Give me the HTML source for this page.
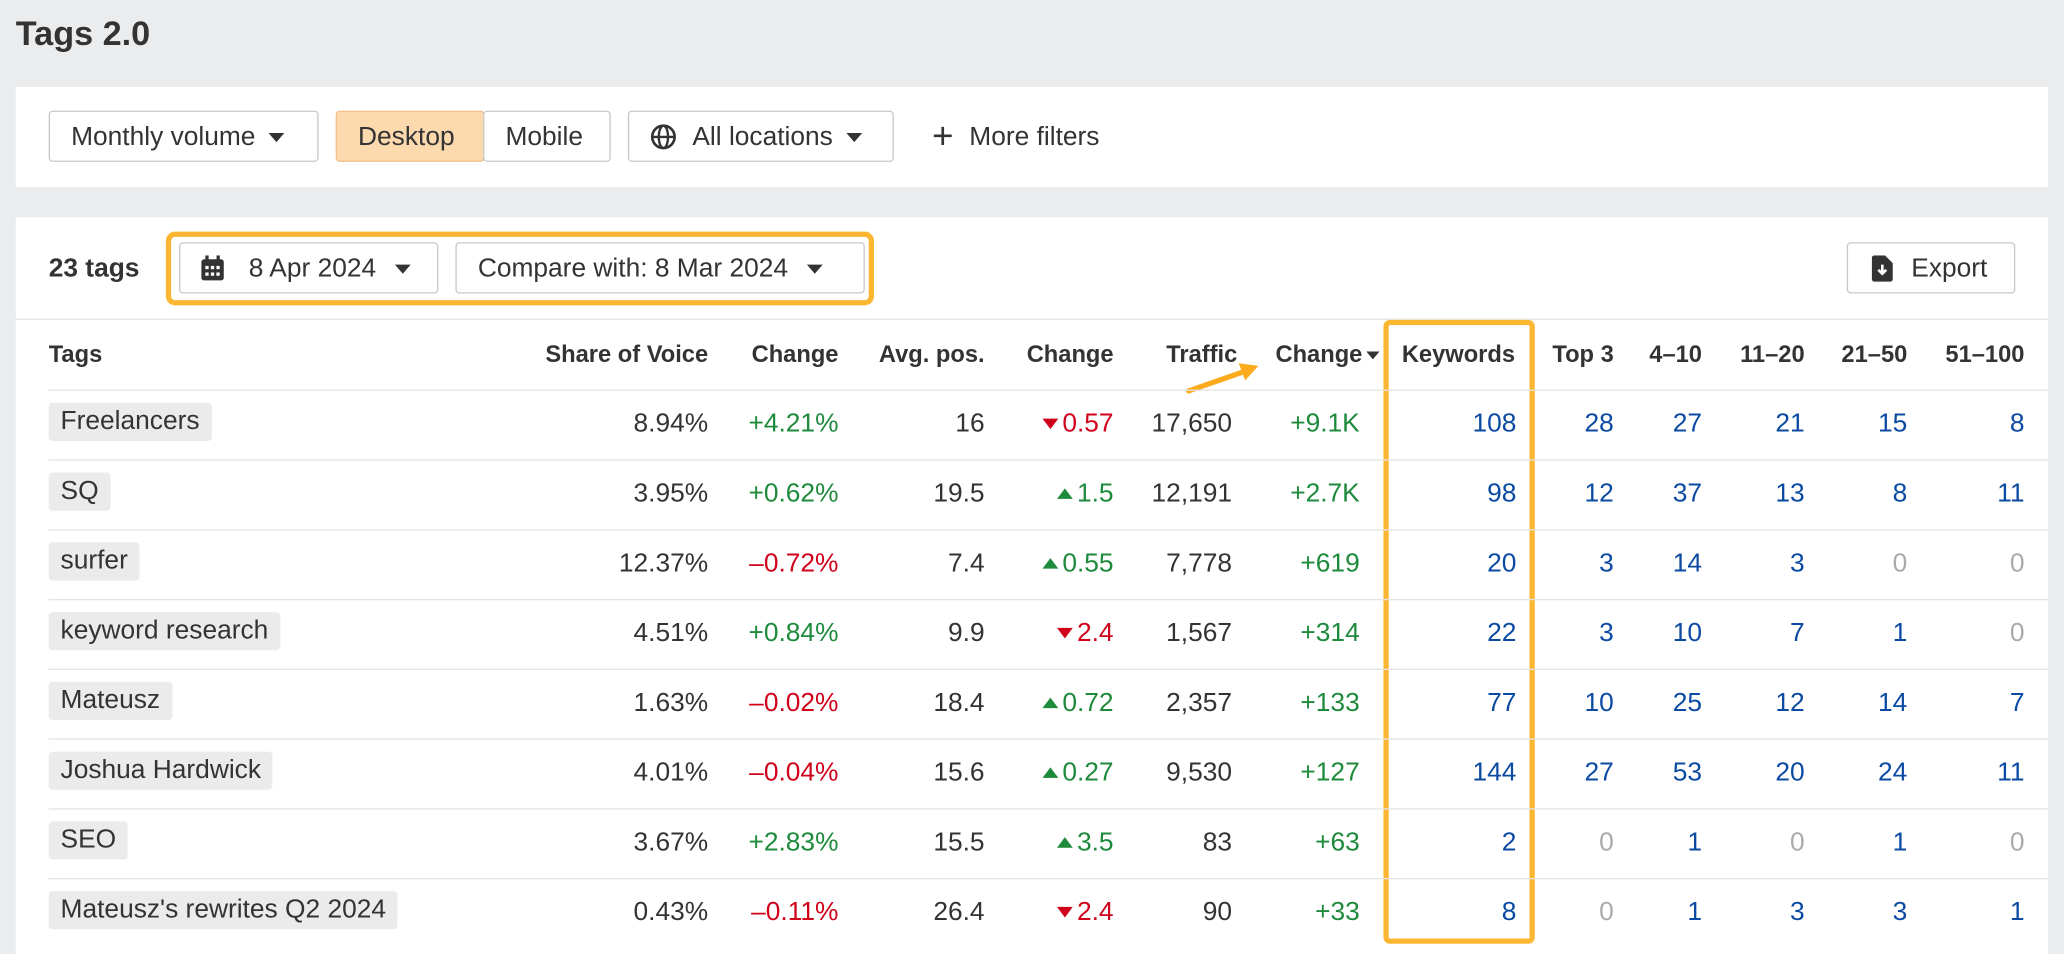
<!DOCTYPE html>
<html><head><meta charset="utf-8">
<style>
html,body{margin:0;padding:0;width:2064px;height:948px;overflow:hidden;background:#ebecee;}
#root{position:absolute;left:0;top:0;width:1568px;height:720px;transform:scale(1.3163);transform-origin:0 0;font-family:"Liberation Sans",Arial,sans-serif;color:#333;}
.abs{position:absolute;}
.btn{position:absolute;border:1px solid #c8c8c8;border-radius:3px;background:#fff;box-sizing:border-box;font-size:20px;line-height:39px;color:#333;padding-left:16px;}
.caret{display:inline-block;width:0;height:0;border-left:6px solid transparent;border-right:6px solid transparent;border-top:7px solid #333;vertical-align:middle;margin-left:10px;}
.hd{position:absolute;top:259px;font-size:18px;font-weight:bold;color:#333;text-align:right;white-space:nowrap;}
.cell{position:absolute;font-size:20px;text-align:right;white-space:nowrap;}
.line{position:absolute;left:37px;right:12px;height:1px;background:#e4e4e4;}
.pill{position:absolute;left:37px;background:#ebebeb;border-radius:3px;padding:0 9px;font-size:20px;line-height:29px;color:#333;}
.g{color:#1e8a3c}.r{color:#d0021b}.b{color:#0b4aa2}.gr{color:#aaa}
.up{display:inline-block;width:0;height:0;border-left:6px solid transparent;border-right:6px solid transparent;border-bottom:8px solid #1e8a3c;margin-right:3px;vertical-align:2px;}
.dn{display:inline-block;width:0;height:0;border-left:6px solid transparent;border-right:6px solid transparent;border-top:8px solid #d0021b;margin-right:3px;vertical-align:2px;}
</style></head><body>
<div id="root">
<div class="abs" style="left:12px;top:10px;font-size:26px;font-weight:bold;color:#333;">Tags 2.0</div>

<div class="abs" style="left:12px;top:66px;width:1544px;height:76px;background:#fff;">
  <div class="btn" style="left:25px;top:18px;width:205px;height:39px;">Monthly volume<span class="caret"></span></div>
  <div class="btn" style="left:243px;top:18px;width:113px;height:39px;background:#fdd9ae;border-color:#f2c08a;">Desktop</div>
  <div class="btn" style="left:355px;top:18px;width:97px;height:39px;">Mobile</div>
  <div class="btn" style="left:465px;top:18px;width:202px;height:39px;padding-left:48px;">
    <svg style="position:absolute;left:16px;top:9px" width="20" height="20" viewBox="0 0 20 20"><circle cx="10" cy="10" r="8.5" fill="none" stroke="#333" stroke-width="2"/><ellipse cx="10" cy="10" rx="3.5" ry="8.5" fill="none" stroke="#333" stroke-width="1.8"/><line x1="1.5" y1="10" x2="18.5" y2="10" stroke="#333" stroke-width="1.8"/></svg>All locations<span class="caret"></span></div>
  <div class="abs" style="left:696px;top:18px;font-size:20px;line-height:39px;"><span style="font-size:28px;vertical-align:-3px;margin-right:12px;">+</span>More filters</div>
</div>

<div class="abs" style="left:12px;top:165px;width:1544px;height:560px;background:#fff;"></div>
<div class="abs" style="left:37px;top:193px;font-size:20px;font-weight:bold;">23 tags</div>
<div class="abs" style="left:126px;top:176px;width:538px;height:56px;border:4px solid #fbb732;border-radius:7px;box-sizing:border-box;"></div>
<div class="btn" style="left:136px;top:184px;width:197px;height:39px;padding-left:52px;">
  <svg style="position:absolute;left:15px;top:9px" width="19" height="20" viewBox="0 0 19 20"><rect x="1" y="3" width="17" height="16" rx="2" fill="#333"/><rect x="4" y="0" width="2.5" height="5" fill="#333"/><rect x="12.5" y="0" width="2.5" height="5" fill="#333"/><g fill="#fff"><rect x="4" y="8" width="2.5" height="2.5"/><rect x="8.2" y="8" width="2.5" height="2.5"/><rect x="12.4" y="8" width="2.5" height="2.5"/><rect x="4" y="13" width="2.5" height="2.5"/><rect x="8.2" y="13" width="2.5" height="2.5"/><rect x="12.4" y="13" width="2.5" height="2.5"/></g></svg>8 Apr 2024<span class="caret" style="margin-left:14px"></span></div>
<div class="btn" style="left:346px;top:184px;width:311px;height:39px;">Compare with: 8 Mar 2024<span class="caret" style="margin-left:14px"></span></div>
<div class="btn" style="left:1403px;top:184px;width:128px;height:39px;padding-left:48px;">
  <svg style="position:absolute;left:18px;top:9px" width="16" height="20" viewBox="0 0 16 20"><path d="M0 2a2 2 0 0 1 2-2h8l6 6v12a2 2 0 0 1-2 2H2a2 2 0 0 1-2-2z" fill="#333"/><path d="M8 7v7M5 11l3 3 3-3" stroke="#fff" stroke-width="2" fill="none"/></svg>Export</div>
<div class="abs" style="left:12px;top:242px;width:1544px;height:1px;background:#e4e4e4;"></div>

<div class="hd" style="left:37px;text-align:left;">Tags</div>
<div class="hd" style="right:1030px;">Share of Voice</div>
<div class="hd" style="right:931px;">Change</div>
<div class="hd" style="right:820px;">Avg. pos.</div>
<div class="hd" style="right:722px;">Change</div>
<div class="hd" style="right:628px;">Traffic</div>
<div class="hd" style="right:520px;">Change<span class="caret" style="margin-left:3px;border-width:6px 5px 0 5px;"></span></div>
<div class="hd" style="right:417px;">Keywords</div>
<div class="hd" style="right:342px;">Top 3</div>
<div class="hd" style="right:275px;">4–10</div>
<div class="hd" style="right:197px;">11–20</div>
<div class="hd" style="right:119px;">21–50</div>
<div class="hd" style="right:30px;">51–100</div>

<div class="abs" style="left:1051px;top:243px;width:115px;height:474px;border:4px solid #fbb732;border-radius:5px;box-sizing:border-box;"></div>
<svg class="abs" style="left:898px;top:274px" width="62" height="30"><line x1="5" y1="23" x2="48" y2="8" stroke="#fbab1c" stroke-width="4" stroke-linecap="round"/><path d="M58 4 L43 2 L48 15 Z" fill="#fbab1c"/></svg>
</div>

<script>
const tags=["Freelancers","SQ","surfer","keyword research","Mateusz","Joshua Hardwick","SEO","Mateusz's rewrites Q2 2024"];
const sov=["8.94%","3.95%","12.37%","4.51%","1.63%","4.01%","3.67%","0.43%"];
const sovChange=["+4.21%","+0.62%","–0.72%","+0.84%","–0.02%","–0.04%","+2.83%","–0.11%"];
const avgPos=["16","19.5","7.4","9.9","18.4","15.6","15.5","26.4"];
const posChange=["-0.57","+1.5","+0.55","-2.4","+0.72","+0.27","+3.5","-2.4"];
const traffic=["17,650","12,191","7,778","1,567","2,357","9,530","83","90"];
const trafficChange=["+9.1K","+2.7K","+619","+314","+133","+127","+63","+33"];
const keywords=[108,98,20,22,77,144,2,8];
const top3=[28,12,3,3,10,27,0,0];
const pos4to10=[27,37,14,10,25,53,1,1];
const pos11to20=[21,13,3,7,12,20,0,3];
const pos21to50=[15,8,0,1,14,24,1,3];
const pos51to100=[8,11,0,0,7,11,0,1];

const root=document.getElementById('root');
function cell(right,top,html,cls,name){
  const d=document.createElement('div');
  d.className='cell '+(cls||'');
  d.style.right=right+'px';d.style.top=top+'px';
  d.innerHTML=html;
  
  
  root.appendChild(d);
  return d;
}
tags.forEach((t,i)=>{
  const y0=296+i*53;
  const ty=y0+15;
  const ln=document.createElement('div');
  ln.className='line';ln.style.top=y0+'px';
  
  
  root.appendChild(ln);
  const p=document.createElement('div');
  p.className='pill';p.style.top=(y0+10)+'px';p.textContent=t;
  
  
  root.appendChild(p);
  cell(1030,ty,sov[i],'', 'share-of-voice-value');
  cell(931,ty,sovChange[i],sovChange[i][0]==='+'?'g':'r','sov-change-value');
  cell(820,ty,avgPos[i],'','avg-pos-value');
  const pc=posChange[i];
  cell(722,ty,(pc[0]==='+'?'<span class="up"></span>':'<span class="dn"></span>')+pc.slice(1),pc[0]==='+'?'g':'r','pos-change-value');
  cell(632,ty,traffic[i],'','traffic-value');
  cell(535,ty,trafficChange[i],'g','traffic-change-value');
  const k=document.createElement('div');
  k.className='cell b';k.style.right='416px';k.style.top=ty+'px';k.textContent=keywords[i];
  
  
  root.appendChild(k);
  [[top3,342],[pos4to10,275],[pos11to20,197],[pos21to50,119],[pos51to100,30]].forEach(([arr,r])=>{
    const v=arr[i];
    const c=document.createElement('div');
    c.className='cell '+(v===0?'gr':'b');c.style.right=r+'px';c.style.top=ty+'px';c.textContent=v;
    
    
    root.appendChild(c);
  });
});
</script>
</body></html>
